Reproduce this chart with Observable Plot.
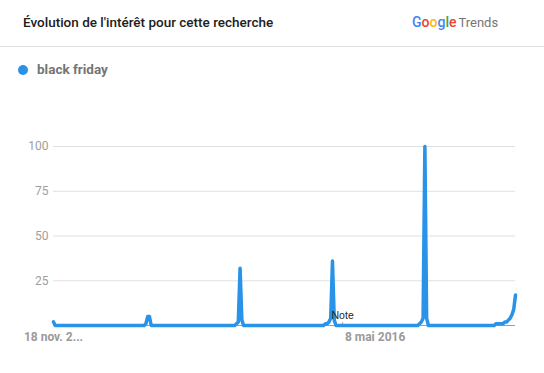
<!DOCTYPE html>
<html lang="fr">
<head>
<meta charset="utf-8">
<script src="https://cdn.jsdelivr.net/npm/d3@7"></script>
<script src="https://cdn.jsdelivr.net/npm/@observablehq/plot@0.6"></script>
<style>
  html, body { margin: 0; padding: 0; background: #fff; }
  body { width: 544px; height: 373px; overflow: hidden; position: relative; font-family: Roboto, "Noto Sans", sans-serif; }
  #header { position: absolute; left: 0; top: 0; width: 544px; height: 46px; border-bottom: 1px solid #e0e0e0; }
  #title { position: absolute; left: 23px; top: 14px; font-size: 13.5px; font-weight: 500; color: #212121; white-space: nowrap; }
  #logo { position: absolute; left: 412px; top: 14px; font-size: 14px; white-space: nowrap; }
  #logo .trends { color: #757575; font-weight: 400; margin-left: 2px; font-size: 13px; }
  #legend { position: absolute; left: 18px; top: 61px; font-size: 13.5px; font-weight: 700; color: #757575; white-space: nowrap; }
  #legend .dot { display: inline-block; width: 10px; height: 10px; border-radius: 50%; vertical-align: -1px; margin-right: 9px; }
  #chart { position: absolute; left: 0; top: 90px; }
</style>
</head>
<body>
<div id="header">
  <div id="title"></div>
  <div id="logo"></div>
</div>
<div id="legend"></div>
<div id="chart"></div>
<script>
// ---- data ----
const titleText = "Évolution de l'intérêt pour cette recherche";
const seriesName = "black friday";
const seriesColor = "#2893e8";
const firstWeek = "2012-11-18";
// weekly interest values (one per week, starting at firstWeek)
const interest = [
  2,0,0,0,0,0,0,0,0,0,0,0,0,0,0,0,0,0,0,0,
  0,0,0,0,0,0,0,0,0,0,0,0,0,0,0,0,0,0,0,0,
  0,0,0,0,0,0,0,0,0,0,0,0,1,5,5,0,0,0,0,0,
  0,0,0,0,0,0,0,0,0,0,0,0,0,0,0,0,0,0,0,0,
  0,0,0,0,0,0,0,0,0,0,0,0,0,0,0,0,0,0,0,0,
  0,0,0,1,2,32,3,0,0,0,0,0,0,0,0,0,0,0,0,0,
  0,0,0,0,0,0,0,0,0,0,0,0,0,0,0,0,0,0,0,0,
  0,0,0,0,0,0,0,0,0,0,0,0,0,1,1,2,4,36,3,0,
  0,0,0,0,0,0,0,0,0,0,0,0,0,0,0,0,0,0,0,0,
  0,0,0,0,0,0,0,0,0,0,0,0,0,0,0,0,0,0,0,0,
  0,0,0,0,0,0,1,2,4,100,4,0,0,0,0,0,0,0,0,0,
  0,0,0,0,0,0,0,0,0,0,0,0,0,0,0,0,0,0,0,0,
  0,0,0,0,0,0,0,0,0,1,1,1,1,1,2,2,3,4,6,9,
  17
];
const yTicks = [25, 50, 75, 100];
const xTickDates = ["2012-11-18", "2016-05-08"];
const xTickLabels = ["18 nov. 2...", "8 mai 2016"];
const noteDate = "2016-01-01";
const noteLabel = "Note";
const logoLetters = ["G", "o", "o", "g", "l", "e"];
const logoColors = ["#4285f4", "#ea4335", "#fbbc05", "#4285f4", "#34a853", "#ea4335"];
const logoSuffix = "Trends";

// ---- header ----
document.getElementById("title").textContent = titleText;
const logo = document.getElementById("logo");
logoLetters.forEach((ch, i) => {
  const s = document.createElement("span");
  s.textContent = ch; s.style.color = logoColors[i]; s.style.fontWeight = "500";
  logo.appendChild(s);
});
const tr = document.createElement("span");
tr.className = "trends"; tr.textContent = logoSuffix;
logo.appendChild(tr);

const legend = document.getElementById("legend");
const dot = document.createElement("span");
dot.className = "dot"; dot.style.background = seriesColor;
legend.appendChild(dot);
legend.appendChild(document.createTextNode(seriesName));

// ---- chart ----
const start = new Date(firstWeek);
const data = interest.map((v, i) => ({date: d3.utcDay.offset(start, 7 * i), value: v}));
const tickDates = xTickDates.map(d => new Date(d));
const note = new Date(noteDate);

const chart = Plot.plot({
  width: 544,
  height: 283,
  marginLeft: 53,
  marginRight: 29,
  marginTop: 56,
  marginBottom: 48,
  style: {fontFamily: "Roboto, sans-serif", background: "#fff", overflow: "visible"},
  x: {type: "utc", domain: [data[0].date, data[data.length - 1].date]},
  y: {domain: [0, 100]},
  marks: [
    Plot.gridY(yTicks, {stroke: "#e0e0e0", strokeOpacity: 1}),
    Plot.ruleY([0], {stroke: "#9e9e9e"}),
    Plot.axisY(yTicks, {tickSize: 0, tickPadding: 5, fontSize: 12, color: "#9e9e9e", label: null}),
    Plot.axisX(tickDates, {
      tickSize: 0, tickPadding: 7, fontSize: 12, fontWeight: "bold", fill: "#9a9a9a", label: null,
      tickFormat: d => xTickLabels[tickDates.findIndex(t => +t === +d)]
    }),
    Plot.ruleX([note], {y1: 0, y2: 1.5, stroke: "#9e9e9e"}),
    Plot.line(data, {x: "date", y: "value", stroke: seriesColor, strokeWidth: 3.5, strokeLinejoin: "round", strokeLinecap: "round"}),
    Plot.text([note], {x: d => d, y: 0, text: () => noteLabel, dy: -10, fontSize: 10.5, fill: "#222", fontFamily: "Liberation Sans, Arial, sans-serif"})
  ]
});
document.getElementById("chart").appendChild(chart);
</script>
</body>
</html>
